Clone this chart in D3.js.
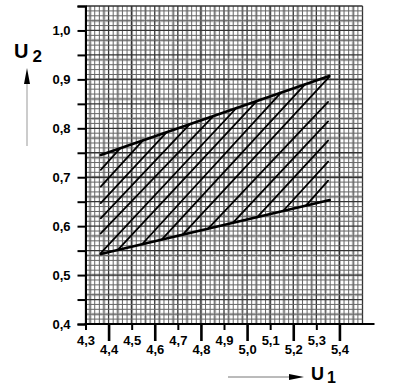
<!DOCTYPE html>
<html><head><meta charset="utf-8">
<script src="https://cdn.jsdelivr.net/npm/d3@7"></script>
<style>
html,body{margin:0;padding:0;background:#fff;}
svg{display:block;}
text{font-family:"Liberation Sans",Arial,sans-serif;}
</style></head>
<body>
<script>
// ---------- data ----------
const u1Ticks = [4.3,4.4,4.5,4.6,4.7,4.8,4.9,5.0,5.1,5.2,5.3,5.4];
const u2Ticks = [0.4,0.45,0.5,0.55,0.6,0.65,0.7,0.75,0.8,0.85,0.9,0.95,1.0,1.05];
const u2Labels = [0.4,0.5,0.6,0.7,0.8,0.9,1.0];

const upperU1 = [4.366, 5.356];
const upperU2 = [0.7455, 0.907];
const lowerU1 = [4.366, 5.358];
const lowerU2 = [0.543, 0.6535];

const hatchStartU1 = [4.366,4.366,4.366,4.366,4.366,4.366,4.441,4.545,4.631,4.722,4.831,4.939,5.043,5.156,5.255];
const hatchStartU2 = [0.715,0.681,0.647,0.616,0.585,0.545,0.552,0.563,0.573,0.583,0.595,0.607,0.618,0.631,0.642];
const hatchEndU1   = [4.450,4.550,4.652,4.753,4.854,4.955,5.043,5.147,5.251,5.356,5.351,5.351,5.351,5.351,5.351];
const hatchEndU2   = [0.759,0.776,0.792,0.809,0.825,0.842,0.856,0.873,0.890,0.905,0.854,0.814,0.775,0.732,0.693];

// ---------- setup ----------
const W = 413, H = 386;
const svg = d3.select("body").append("svg").attr("width", W).attr("height", H);
svg.append("rect").attr("width", W).attr("height", H).attr("fill", "#fff");

const x = d3.scaleLinear().domain([4.3, 5.5]).range([85.5, 362.5]);
const y = d3.scaleLinear().domain([0.4, 1.05]).range([324, 6]);
const fmt = v => d3.format(".1f")(v).replace(".", ",");

// ---------- grid (graph paper) ----------
const grid = svg.append("g");
const gx = d3.range(0, 61).map(i => 4.3 + i * 0.02);
const gy = d3.range(0, 66).map(i => 0.4 + i * 0.01);
// light scan bands
grid.selectAll("line.bx").data(gx.filter((d, i) => i % 3 === 1)).join("line")
  .attr("x1", d => x(d)).attr("x2", d => x(d))
  .attr("y1", y(1.05)).attr("y2", y(0.4))
  .attr("stroke", "#c2c2c2").attr("stroke-width", 3);
grid.selectAll("line.by").data(gy.filter((d, i) => i % 4 === 2)).join("line")
  .attr("y1", d => y(d)).attr("y2", d => y(d))
  .attr("x1", x(4.3)).attr("x2", x(5.5))
  .attr("stroke", "#c2c2c2").attr("stroke-width", 3);
grid.selectAll("line.vx").data(gx).join("line")
  .attr("x1", d => x(d)).attr("x2", d => x(d))
  .attr("y1", y(1.05)).attr("y2", y(0.4))
  .attr("stroke", (d, i) => i % 5 === 0 ? "#333" : "#666")
  .attr("stroke-width", (d, i) => i % 5 === 0 ? 1.3 : 1);
grid.selectAll("line.hy").data(gy).join("line")
  .attr("y1", d => y(d)).attr("y2", d => y(d))
  .attr("x1", x(4.3)).attr("x2", x(5.5))
  .attr("stroke", (d, i) => i % 5 === 0 ? "#333" : "#666")
  .attr("stroke-width", (d, i) => i % 5 === 0 ? 1.3 : 1);

// ---------- hatch ----------
const hatch = svg.append("g");
hatch.selectAll("line").data(hatchStartU1.map((d, i) => i)).join("line")
  .attr("x1", i => x(hatchStartU1[i])).attr("y1", i => y(hatchStartU2[i]))
  .attr("x2", i => x(hatchEndU1[i])).attr("y2", i => y(hatchEndU2[i]))
  .attr("stroke", "#000").attr("stroke-width", 1.8).attr("stroke-linecap", "round");

// ---------- boundary lines ----------
const line = d3.line().x(d => x(d[0])).y(d => y(d[1]));
svg.append("path").attr("d", line(upperU1.map((d, i) => [d, upperU2[i]])))
  .attr("fill", "none").attr("stroke", "#000").attr("stroke-width", 2.6).attr("stroke-linecap", "round");
svg.append("path").attr("d", line(lowerU1.map((d, i) => [d, lowerU2[i]])))
  .attr("fill", "none").attr("stroke", "#000").attr("stroke-width", 2.6).attr("stroke-linecap", "round");

// ---------- y axis ----------
const yAxis = svg.append("g").attr("transform", `translate(${x(4.3)},0)`)
  .call(d3.axisLeft(y).tickValues(u2Ticks).tickSize(8).tickPadding(7)
    .tickFormat(v => u2Labels.some(l => Math.abs(l - v) < 1e-6) ? fmt(v) : ""));
yAxis.select(".domain").attr("stroke", "#000").attr("stroke-width", 2);
yAxis.selectAll(".tick line").attr("stroke", "#000").attr("stroke-width", 2);
yAxis.selectAll(".tick text").attr("font-size", 13).attr("font-weight", "bold").attr("fill", "#000");

// ---------- x axis ----------
const xAxis = svg.append("g").attr("transform", `translate(0,${y(0.4)})`)
  .call(d3.axisBottom(x).tickValues(u1Ticks).tickFormat(fmt).tickSizeOuter(0));
xAxis.select(".domain").remove();
xAxis.append("line").attr("x1", x(4.3) - 1).attr("x2", x(5.5) + 12)
  .attr("y1", 0).attr("y2", 0).attr("stroke", "#000").attr("stroke-width", 2);
xAxis.selectAll(".tick").each(function(d, i) {
  const even = i % 2 === 1;
  const t = d3.select(this);
  t.select("line").attr("y2", even ? 17 : 6).attr("stroke", "#000").attr("stroke-width", even ? 2.6 : 2);
  t.select("text").attr("dy", null).attr("y", even ? 30 : 21)
    .attr("font-size", 13).attr("font-weight", "bold").attr("fill", "#000");
});

// ---------- axis titles & arrows ----------
const t2 = svg.append("text").attr("x", 14).attr("y", 57.5).attr("font-weight", "bold").attr("fill", "#000");
t2.append("tspan").attr("font-size", 20).text("U");
t2.append("tspan").attr("font-size", 17).attr("dx", 4).attr("dy", 4).text("2");
svg.append("line").attr("x1", 27).attr("x2", 27).attr("y1", 82).attr("y2", 146)
  .attr("stroke", "#aaa").attr("stroke-width", 1.2);
svg.append("path").attr("d", "M27,68 L24,84 L30,84 Z").attr("fill", "#000");

const t1 = svg.append("text").attr("x", 311).attr("y", 380).attr("font-weight", "bold").attr("fill", "#000");
t1.append("tspan").attr("font-size", 18).text("U");
t1.append("tspan").attr("font-size", 16).attr("dx", 3).attr("dy", 3).text("1");
svg.append("line").attr("x1", 228).attr("x2", 292).attr("y1", 377).attr("y2", 377)
  .attr("stroke", "#777").attr("stroke-width", 1);
svg.append("path").attr("d", "M304,377 L289,374 L289,380 Z").attr("fill", "#000");
</script>
</body></html>
